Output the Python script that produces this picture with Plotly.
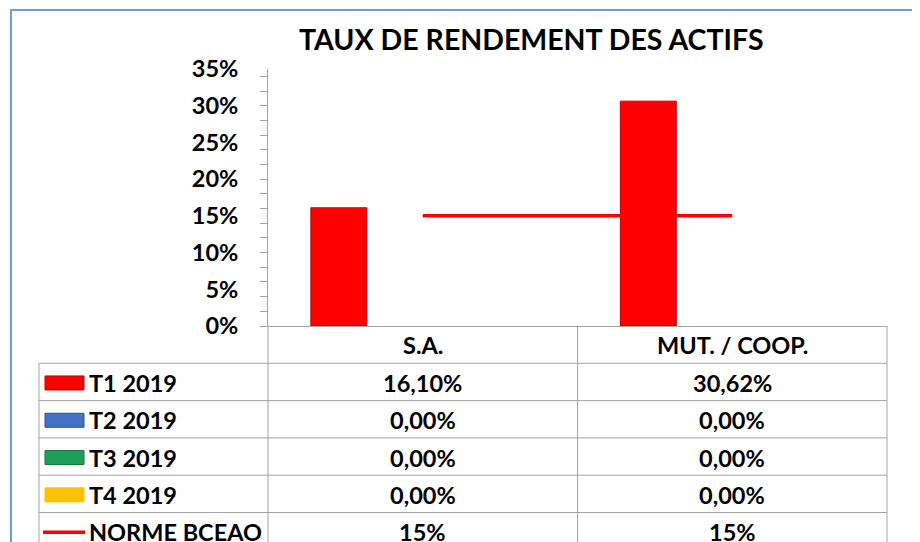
import plotly.graph_objects as go

# ---------------- data ----------------
categories = ["S.A.", "MUT. / COOP."]
series_names = ["T1 2019", "T2 2019", "T3 2019", "T4 2019"]
t1_2019 = [0.1610, 0.3062]
t2_2019 = [0.0, 0.0]
t3_2019 = [0.0, 0.0]
t4_2019 = [0.0, 0.0]
norme_name = "NORME BCEAO"
norme_bceao = [0.15, 0.15]
y_ticks = [0.0, 0.05, 0.10, 0.15, 0.20, 0.25, 0.30, 0.35]
title_text = "TAUX DE RENDEMENT DES ACTIFS"

series_values = [t1_2019, t2_2019, t3_2019, t4_2019]
series_fill = ["#ff0000", "#4472c4", "#1f9e55", "#ffc000"]
series_edge = ["#c00000", "#2f528f", "#16733d", "#ffc000"]

# ---------------- geometry helpers (reference pixel -> paper) ----------------
OFF = 8  # page body margin
W, H = 920 - OFF, 542 - OFF
L, R, T, B = 268, 887, 69, 326  # in reference pixels
PW, PH = R - L, B - T


def px(x):
    return (x - L) / PW


def py(y):
    return (B - y) / PH


FONT = "Lato, 'Open Sans', sans-serif"
GRID = "#a3a3a3"

fig = go.Figure()

for name, vals, col, edge in zip(series_names, series_values, series_fill, series_edge):
    fig.add_trace(go.Bar(
        x=categories, y=vals, name=name,
        marker=dict(color=col,
                    line=dict(color=edge, width=[1 if v > 0 else 0 for v in vals])),
        showlegend=False, yaxis="y",
    ))

fig.add_trace(go.Scatter(
    x=categories, y=norme_bceao, name=norme_name, mode="lines",
    line=dict(color="#ff0000", width=3.5), showlegend=False, yaxis="y2",
))

fig.update_layout(
    width=W, height=H,
    margin=dict(l=L - OFF, r=W - (R - OFF), t=T - OFF, b=H - (B - OFF)),
    paper_bgcolor="white", plot_bgcolor="white",
    barmode="group", bargap=0.277, bargroupgap=0,
    font=dict(family=FONT, color="black"),
    xaxis=dict(range=[-0.5, 1.5], showticklabels=False, ticks="",
               showline=True, linecolor=GRID, linewidth=1, showgrid=False,
               zeroline=False),
    yaxis=dict(range=[0, 0.35], tickmode="array", tickvals=y_ticks,
               ticktext=[f"{round(v * 100)}%" for v in y_ticks],
               tickfont=dict(family=FONT, size=23.5, color="black", weight="bold"),
               ticks="", ticklabelstandoff=24, showgrid=False, zeroline=False,
               showline=True, linecolor=GRID, linewidth=1),
    yaxis2=dict(range=[0, 0.35], overlaying="y", side="left", anchor="x",
                tickmode="linear", tick0=0, dtick=0.02, ticks="outside",
                ticklen=7, tickcolor=GRID, tickwidth=1, showticklabels=False,
                showgrid=False, zeroline=False, showline=False),
    yaxis3=dict(range=[0, 0.35], overlaying="y", side="left", anchor="x",
                tickmode="array", tickvals=y_ticks[1:-1], ticks="",
                showticklabels=False, showgrid=True, gridcolor=GRID,
                gridwidth=1, zeroline=False, showline=False),
)

shapes = []
annotations = []

# outer frame
shapes.append(dict(type="rect", xref="paper", yref="paper",
                   x0=px(11), x1=px(960), y0=py(10), y1=py(600),
                   line=dict(color="#6a9fd8", width=2)))

# data table
row_h = 37.3
header_bottom = B + row_h
row_tops = [header_bottom + i * row_h for i in range(5)]
table_left = 39
table_bottom = 600
line_style = dict(color=GRID, width=1)

for yb in row_tops:
    shapes.append(dict(type="line", xref="paper", yref="paper",
                       x0=px(table_left), x1=px(R), y0=py(yb), y1=py(yb),
                       line=line_style))
shapes.append(dict(type="line", xref="paper", yref="paper",
                   x0=px(table_left), x1=px(table_left),
                   y0=py(header_bottom), y1=py(table_bottom), line=line_style))
for xb in [L, (L + R) / 2, R]:
    shapes.append(dict(type="line", xref="paper", yref="paper",
                       x0=px(xb), x1=px(xb), y0=py(B), y1=py(table_bottom),
                       line=line_style))

cell_font = dict(family=FONT, size=23.5, color="black", weight="bold")
col_centers = [0.25, 0.75]

# header
for cat, cx in zip(categories, col_centers):
    annotations.append(dict(text=cat, x=cx, y=py(B + 19), xref="paper",
                            yref="paper", showarrow=False, font=cell_font,
                            xanchor="center", yanchor="middle"))


def fmt(v):
    return f"{v * 100:.2f}%".replace(".", ",")


rows = [(n, [fmt(v) for v in vals], "bar", c, e)
        for n, vals, c, e in zip(series_names, series_values, series_fill, series_edge)]
rows.append((norme_name, [f"{round(v * 100)}%" for v in norme_bceao], "line", "#ff0000", "#ff0000"))

for i, (name, texts, kind, col, edge) in enumerate(rows):
    yc = row_tops[i] + row_h / 2 + 1
    if kind == "bar":
        shapes.append(dict(type="rect", xref="paper", yref="paper",
                           x0=px(45), x1=px(84), y0=py(yc - 7), y1=py(yc + 7),
                           fillcolor=col, line=dict(color=edge, width=1)))
    else:
        shapes.append(dict(type="line", xref="paper", yref="paper",
                           x0=px(43), x1=px(85), y0=py(yc), y1=py(yc),
                           line=dict(color=col, width=3.5)))
    annotations.append(dict(text=name, x=px(87), y=py(yc), xref="paper",
                            yref="paper", showarrow=False, font=cell_font,
                            xanchor="left", yanchor="middle"))
    for t, cx in zip(texts, col_centers):
        annotations.append(dict(text=t, x=cx, y=py(yc), xref="paper",
                                yref="paper", showarrow=False, font=cell_font,
                                xanchor="center", yanchor="middle"))

# title
annotations.append(dict(text=title_text, x=px(531), y=py(39), xref="paper",
                        yref="paper", showarrow=False,
                        font=dict(family=FONT, size=28.5, color="black", weight="bold"),
                        xanchor="center", yanchor="middle"))

fig.update_layout(shapes=shapes, annotations=annotations)
fig.write_html("out.html")
